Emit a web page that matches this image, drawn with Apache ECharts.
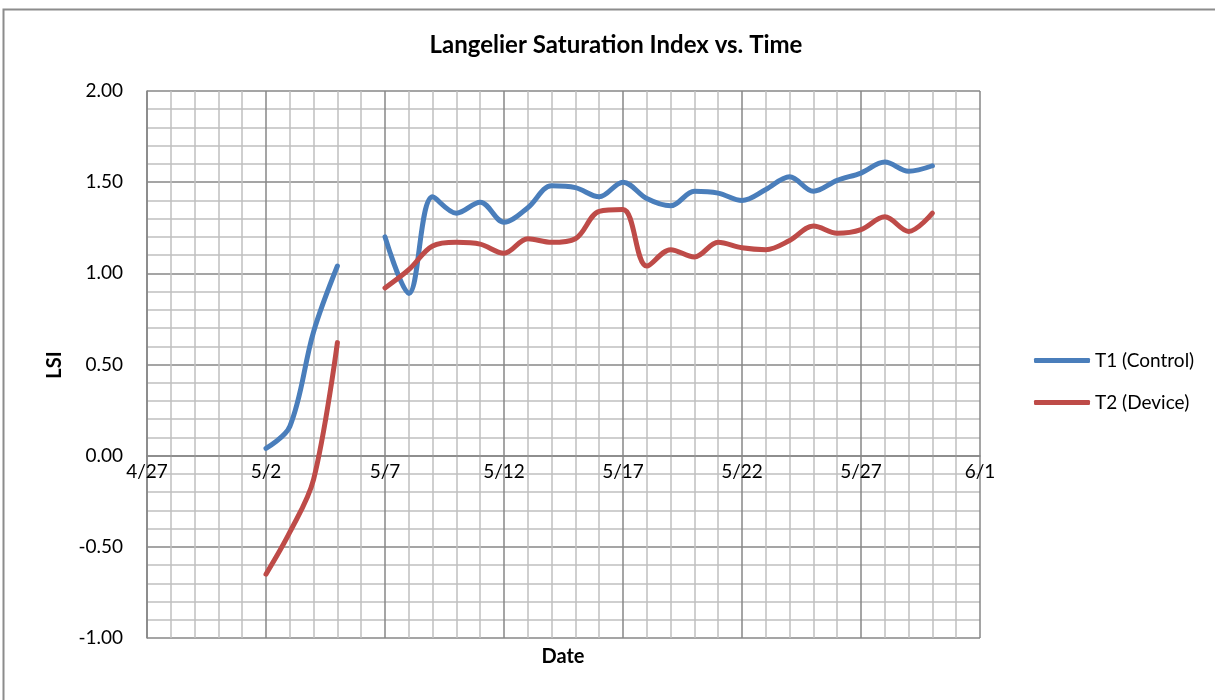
<!DOCTYPE html>
<html>
<head>
<meta charset="utf-8">
<script src="https://cdn.jsdelivr.net/npm/echarts@6/dist/echarts.min.js"></script>
<style>
html,body{margin:0;padding:0;background:#fff;}
#chart{width:1215px;height:700px;}
</style>
</head>
<body>
<div id="chart"></div>
<script>
// ---- Data ----
const dates = ['5/2','5/3','5/4','5/5','5/6','5/7','5/8','5/9','5/10','5/11','5/12','5/13','5/14','5/15','5/16',
  '5/17','5/18','5/19','5/20','5/21','5/22','5/23','5/24','5/25','5/26','5/27','5/28','5/29','5/30'];
const t1Control = [0.04,0.16,0.68,1.04,null,1.20,0.89,1.42,1.33,1.39,1.28,1.36,1.48,1.47,1.42,
  1.50,1.41,1.37,1.45,1.44,1.40,1.46,1.53,1.45,1.51,1.55,1.61,1.56,1.59];
const t2Device = [-0.65,-0.42,-0.13,0.62,null,0.92,1.02,1.15,1.17,1.16,1.11,1.19,1.17,1.19,1.34,
  1.35,1.04,1.13,1.09,1.17,1.14,1.13,1.18,1.26,1.22,1.24,1.31,1.23,1.33];
const xTickLabels = ['4/27','5/2','5/7','5/12','5/17','5/22','5/27','6/1'];
const seriesNames = ['T1 (Control)','T2 (Device)'];

// day offset from 4/27
function dayOffset(s){
  const p = s.split('/').map(Number);
  if (p[0] === 4) return p[1] - 27;
  if (p[0] === 5) return p[1] + 3;
  return p[1] + 34;
}
const xs = dates.map(dayOffset);
const toPairs = vals => xs.map((x,i) => [x, vals[i]]);

const FONT = 'Lato';
const Y_MIN = -1, Y_MAX = 2;
const gridTop = 91, gridBottom = 62, chartH = 700;
const plotH = chartH - gridTop - gridBottom;
// move the date axis up to the y = 0 line (Excel crosses at zero)
const zeroOffset = -plotH * (0 - Y_MIN) / (Y_MAX - Y_MIN);

const chart = echarts.init(document.getElementById('chart'), null, {renderer:'canvas'});
chart.setOption({
  animation:false,
  backgroundColor:'#ffffff',
  title:{
    text:'Langelier Saturation Index vs. Time',
    left:611, top:28, textAlign:'center',
    textStyle:{fontFamily:FONT,fontSize:24,fontWeight:'bold',color:'#000'}
  },
  legend:{
    orient:'vertical', left:1029, top:346,
    itemWidth:56, itemHeight:5, itemGap:23,
    icon:'roundRect',
    textStyle:{fontFamily:FONT,fontSize:19,color:'#000'},
    data:seriesNames
  },
  grid:{left:147, right:235, top:gridTop, bottom:gridBottom, containLabel:false},
  xAxis:{
    type:'value', min:0, max:35, interval:5,
    offset:zeroOffset,
    axisLine:{show:true,onZero:false,lineStyle:{color:'#868686',width:1.5}},
    axisTick:{show:false},
    minorTick:{show:false,splitNumber:5},
    axisLabel:{margin:7,fontFamily:FONT,fontSize:19,color:'#000',
      formatter:v => xTickLabels[Math.round(v/5)]},
    splitLine:{show:true,lineStyle:{color:'#878787',width:1.5}},
    minorSplitLine:{show:true,lineStyle:{color:'#c0c0c0',width:1.5}}
  },
  yAxis:{
    type:'value', min:Y_MIN, max:Y_MAX, interval:0.5,
    axisLine:{show:true,onZero:false,lineStyle:{color:'#868686',width:1.5}},
    axisTick:{show:false},
    minorTick:{show:false,splitNumber:5},
    axisLabel:{margin:24,fontFamily:FONT,fontSize:19,color:'#000',
      formatter:v => v.toFixed(2)},
    splitLine:{show:true,lineStyle:{color:'#878787',width:1.5}},
    minorSplitLine:{show:true,lineStyle:{color:'#c0c0c0',width:1.5}}
  },
  graphic:[
    {type:'rect',left:1,top:7,shape:{width:1300,height:800},
      style:{fill:'none',stroke:'#8c8c8c',lineWidth:2},silent:true},
    {type:'text',x:55,y:365,rotation:Math.PI/2,
      style:{text:'LSI',fontFamily:FONT,fontSize:20,fontWeight:'bold',fill:'#000',
        align:'center',verticalAlign:'middle'}},
    {type:'text',x:563,y:657,
      style:{text:'Date',fontFamily:FONT,fontSize:20,fontWeight:'bold',fill:'#000',
        align:'center',verticalAlign:'middle'}}
  ],
  series:[
    {name:seriesNames[0],type:'line',data:toPairs(t1Control),smooth:0.35,showSymbol:false,
      connectNulls:false,lineStyle:{width:5,color:'#4a7ebb',cap:'round'},itemStyle:{color:'#4a7ebb'}},
    {name:seriesNames[1],type:'line',data:toPairs(t2Device),smooth:0.35,showSymbol:false,
      connectNulls:false,lineStyle:{width:5,color:'#be4b48',cap:'round'},itemStyle:{color:'#be4b48'}}
  ]
});
</script>
</body>
</html>
